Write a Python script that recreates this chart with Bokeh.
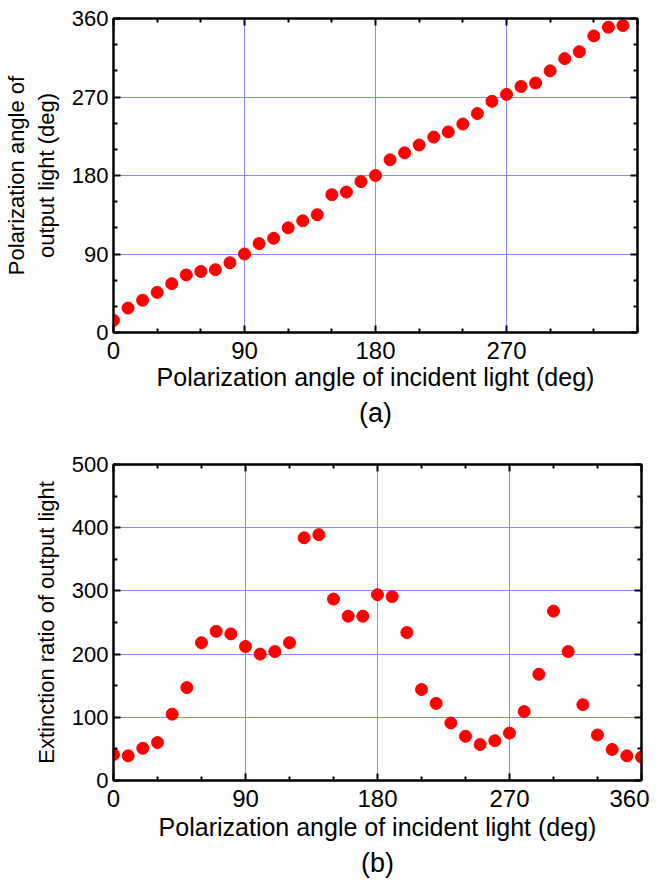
from bokeh.plotting import figure
from bokeh.models import Range1d, LinearAxis, FixedTicker, Title, CustomJSTickFormatter
from bokeh.layouts import column
from bokeh.embed import file_html
from bokeh.resources import INLINE

# ---- data ----
incident_a = [0, 10, 20, 30, 40, 50, 60, 70, 80, 90, 100, 110, 120, 130, 140, 150, 160, 170,
              180, 190, 200, 210, 220, 230, 240, 250, 260, 270, 280, 290, 300, 310, 320, 330, 340, 350]
output_angle = [14, 28, 37, 46, 56, 66, 70, 72, 80, 90, 102, 108, 120, 128, 135, 158, 161, 173,
                180, 198, 206, 215, 224, 230, 239, 251, 265, 273, 282, 286, 300, 314, 322, 340, 350, 352]

incident_b = [0, 10, 20, 30, 40, 50, 60, 70, 80, 90, 100, 110, 120, 130, 140, 150, 160, 170,
              180, 190, 200, 210, 220, 230, 240, 250, 260, 270, 280, 290, 300, 310, 320, 330, 340, 350, 360]
extinction = [41, 39, 51, 60, 105, 147, 218, 236, 232, 212, 200, 204, 218, 384, 389, 287, 260, 260,
              294, 291, 234, 144, 122, 91, 70, 57, 63, 75, 109, 168, 268, 204, 120, 72, 49, 39, 37]

x_major = [0, 90, 180, 270, 360]
x_minor = [30, 60, 120, 150, 210, 240, 300, 330]
ya_major = [0, 90, 180, 270, 360]
ya_minor = [30, 60, 120, 150, 210, 240, 300, 330]
yb_major = [0, 100, 200, 300, 400, 500]
yb_minor = [50, 150, 250, 350, 450]

x_label = "Polarization angle of incident light (deg)"
ya_label = "Polarization angle of\noutput light (deg)"
yb_label = "Extinction ratio of output light"

FONT = "Liberation Sans"
GRID = "#8888ff"
RED = "#ff0000"


def style(ax, show, tick_size="23px", label_size="22px"):
    ax.axis_line_color = "black"
    ax.axis_line_width = 2
    ax.major_tick_in = 7
    ax.major_tick_out = 0
    ax.minor_tick_in = 4
    ax.minor_tick_out = 0
    ax.major_tick_line_color = "black"
    ax.major_tick_line_width = 2
    ax.minor_tick_line_color = "black"
    ax.minor_tick_line_width = 2
    ax.major_label_text_font = FONT
    ax.major_label_text_color = "black"
    ax.axis_label_text_font = FONT
    ax.axis_label_text_font_style = "normal"
    ax.axis_label_text_color = "black"
    ax.axis_label_text_font_size = label_size
    ax.major_label_text_font_size = tick_size
    if not show:
        ax.formatter = CustomJSTickFormatter(code="return '';")
        ax.major_label_standoff = 0


def make(xs, ys, ymax, ymaj, ymin, ylab, cap, hide360, fw, fh, top, bottom, xstand, ystand):
    p = figure(width=645, height=top + fh + bottom, frame_width=fw, frame_height=fh,
               x_range=Range1d(0, 360), y_range=Range1d(0, ymax),
               output_backend="svg", toolbar_location=None,
               min_border_left=111, min_border_right=10,
               min_border_top=top, min_border_bottom=bottom)
    p.outline_line_color = "black"
    p.outline_line_width = 2
    p.background_fill_color = "white"
    p.border_fill_color = "white"

    xt = FixedTicker(ticks=x_major, minor_ticks=x_minor)
    yt = FixedTicker(ticks=ymaj, minor_ticks=ymin)
    p.xaxis.ticker = xt
    p.yaxis.ticker = yt
    style(p.xaxis[0], True, "24px", "25px")
    style(p.yaxis[0], True, "22px", "22px")
    p.xaxis.axis_label = x_label
    p.yaxis.axis_label = ylab
    p.xaxis.major_label_standoff = 9
    p.yaxis.major_label_standoff = 5
    p.xaxis.axis_label_standoff = xstand
    p.yaxis.axis_label_standoff = ystand
    if hide360:
        p.xaxis.major_label_overrides = {360: ""}

    top_ax = LinearAxis(ticker=FixedTicker(ticks=x_major, minor_ticks=x_minor))
    style(top_ax, False, "1px")
    p.add_layout(top_ax, "above")
    right_ax = LinearAxis(ticker=FixedTicker(ticks=ymaj, minor_ticks=ymin))
    style(right_ax, False, "1px")
    p.add_layout(right_ax, "right")

    p.xgrid.ticker = xt
    p.ygrid.ticker = yt
    p.xgrid.grid_line_color = GRID
    p.ygrid.grid_line_color = GRID
    p.xgrid.grid_line_width = 1
    p.ygrid.grid_line_width = 1

    p.scatter(xs, ys, size=12, color=RED, line_color=RED)

    t = Title(text=cap, align="center", text_font=FONT, text_font_size="27px",
              text_font_style="normal", text_color="black", standoff=4)
    p.add_layout(t, "below")
    return p


pa = make(incident_a, output_angle, 360, ya_major, ya_minor, ya_label, "(a)", True,
          524, 314, 18, 107, 1, 10)
pb = make(incident_b, extinction, 500, yb_major, yb_minor, yb_label, "(b)", False,
          528, 316, 25, 96, 3, 10)

layout = column(pa, pb, spacing=0)
open("out.html", "w").write(file_html(layout, INLINE))
